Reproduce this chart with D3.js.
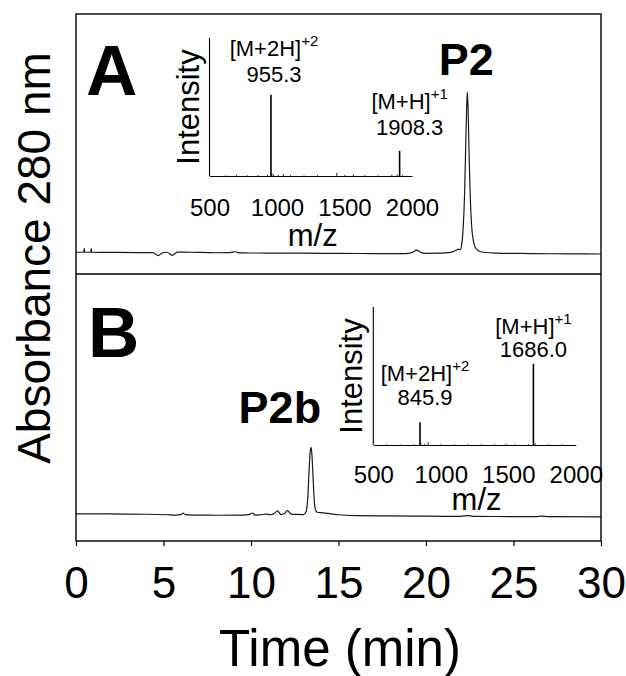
<!DOCTYPE html>
<html>
<head>
<meta charset="utf-8">
<script src="https://cdn.jsdelivr.net/npm/d3@7"></script>
<style>
  body { margin: 0; background: #fff; }
  svg { display: block; }
  text { font-family: "Liberation Sans", Arial, Helvetica, sans-serif; fill: #000; }
</style>
</head>
<body>
<svg id="chart" width="626" height="676"></svg>
<script>
// ---- HPLC traces (retention time in min, absorbance at 280 nm, relative units) ----
const timeA = [0, 0.44, 0.47, 0.5, 0.84, 0.87, 0.9, 2, 3.5, 4.4, 4.7, 4.95, 5.2, 5.5, 5.8, 6.5, 8, 8.8, 9.1, 9.4,
  11, 13, 15, 17, 18.8, 19.2, 19.45, 19.7, 20, 20.8, 21.4, 21.7, 21.85, 21.95, 22.05, 22.12, 22.2, 22.26, 22.31,
  22.36, 22.41, 22.46, 22.52, 22.6, 22.7, 22.82, 23.0, 23.3, 24, 26, 28, 30];
const absA = [0.5, 0.5, 2.8, 0.5, 0.5, 2.8, 0.5, 0.4, 0.3, 0.3, -1.6, 0.2, 0.5, -1.4, 0.6, 0.5, 0.2, 0.3, 0.8, 0.1,
  0, -0.1, -0.2, -0.3, -0.3, 0.3, 1.8, 0.4, -0.2, -0.1, 0.4, 1.6, 2.4, 2.0, 6, 15, 35, 62, 85,
  100, 88, 62, 38, 18, 8, 3.5, 1.5, 0.5, 0, -0.3, -0.5, -0.6];

const timeB = [0, 2, 4, 5.2, 5.7, 6.0, 6.12, 6.25, 6.6, 8, 9.5, 9.9, 10.08, 10.25, 10.5, 10.9, 11.1, 11.35, 11.52,
  11.7, 11.9, 12.08, 12.3, 12.6, 13.0, 13.15, 13.25, 13.33, 13.39, 13.44, 13.49, 13.56, 13.64, 13.74, 13.85,
  14.1, 14.5, 15, 16, 18, 20, 22, 22.4, 22.7, 24, 26.3, 26.6, 27, 30];
const absB = [0.8, 0.7, 0.5, 0.2, 0, 0.3, 1.2, 0.3, 0, -0.1, 0, 0.3, 1.3, 0, 0.1, 0.6, 0.2, 1.1, 2.6,
  0.4, 0.8, 2.8, 0.6, 0.4, 0.3, 2, 12, 30, 40, 42, 36, 20, 6, 2, 1.6,
  1.4, 0.9, 0.2, -0.3, -0.5, -0.7, -0.8, -0.3, -0.8, -0.9, -1.0, -0.6, -1.0, -1.1];

const timeTicks = [0, 5, 10, 15, 20, 25, 30];

// ---- ESI mass spectra (m/z, relative intensity) ----
const ionA = ["[M+2H]", "[M+H]"];
const chargeA = ["+2", "+1"];
const peakMzA = [955.3, 1908.3];
const peakIntA = [100, 31];
const noiseMzA = [620, 700, 780, 860, 930, 962, 975, 1010, 1047, 1100, 1200, 1300, 1443, 1500, 1566, 1650, 1750, 1850, 1890, 1930];
const noiseIntA = [0.8, 1, 0.8, 1.2, 1.5, 3, 2, 1.5, 2.5, 1, 0.8, 1, 4, 1, 2, 1, 0.8, 1.5, 2, 1];

const ionB = ["[M+2H]", "[M+H]"];
const chargeB = ["+2", "+1"];
const peakMzB = [845.9, 1686.0];
const peakIntB = [28, 100];
const noiseMzB = [600, 700, 800, 852, 880, 907, 1000, 1100, 1200, 1300, 1400, 1483, 1550, 1650, 1700, 1800, 1900];
const noiseIntB = [0.8, 0.8, 1, 3, 1.5, 3.5, 1, 0.8, 0.8, 1, 0.8, 1.5, 0.8, 1, 2, 0.8, 0.8];

const mzTicks = [500, 1000, 1500, 2000];

const svg = d3.select("#chart");
const FONT = '"Liberation Sans", Arial, Helvetica, sans-serif';

// ---- main frame and scales ----
const frame = { left: 76, right: 601, top: 14, mid: 274, bottom: 541 };
const x = d3.scaleLinear().domain([0, 30]).range([frame.left, frame.right]);
const yA = d3.scaleLinear().domain([-13, 148.4]).range([frame.mid, frame.top]);
const yB = d3.scaleLinear().domain([-16.1, 149.7]).range([frame.bottom, frame.mid]);

const trace = (yScale) => d3.line()
  .x(d => x(d[0]))
  .y(d => yScale(d[1]))
  .curve(d3.curveMonotoneX);

svg.append("path")
  .datum(d3.zip(timeA, absA))
  .attr("d", trace(yA))
  .attr("fill", "none").attr("stroke", "#1a1a1a").attr("stroke-width", 1.2);

svg.append("path")
  .datum(d3.zip(timeB, absB))
  .attr("d", trace(yB))
  .attr("fill", "none").attr("stroke", "#1a1a1a").attr("stroke-width", 1.2);

// frame and panel divider
svg.append("rect")
  .attr("x", frame.left).attr("y", frame.top)
  .attr("width", frame.right - frame.left).attr("height", frame.bottom - frame.top)
  .attr("fill", "none").attr("stroke", "#000").attr("stroke-width", 1.4);
svg.append("line")
  .attr("x1", frame.left).attr("x2", frame.right)
  .attr("y1", frame.mid).attr("y2", frame.mid)
  .attr("stroke", "#000").attr("stroke-width", 1.4);

// bottom time axis
const xAxis = svg.append("g")
  .attr("transform", `translate(0,${frame.bottom})`)
  .call(d3.axisBottom(x).tickValues(timeTicks).tickSize(5).tickPadding(21).tickFormat(d3.format("d")));
xAxis.select(".domain").remove();
xAxis.selectAll(".tick line").attr("stroke", "#000").attr("stroke-width", 1.2);
xAxis.selectAll(".tick text").attr("font-family", FONT).attr("font-size", 44).attr("fill", "#000");

svg.append("text")
  .attr("x", 340).attr("y", 666)
  .attr("text-anchor", "middle").attr("font-size", 51)
  .text("Time (min)");

svg.append("text")
  .attr("transform", "translate(50,258) rotate(-90)")
  .attr("text-anchor", "middle").attr("font-size", 46)
  .text("Absorbance 280 nm");

// panel letters and peak names
svg.append("text").attr("x", 86).attr("y", 95)
  .attr("font-size", 71).attr("font-weight", "bold").text("A");
svg.append("text").attr("x", 88).attr("y", 357)
  .attr("font-size", 71).attr("font-weight", "bold").text("B");
svg.append("text").attr("x", x(22.3)).attr("y", 75)
  .attr("text-anchor", "middle").attr("font-size", 45).attr("font-weight", "bold").text("P2");
svg.append("text").attr("x", x(11.65)).attr("y", 423)
  .attr("text-anchor", "middle").attr("font-size", 45).attr("font-weight", "bold").text("P2b");

// ---- inset mass spectrum ----
function inset(box, peakMz, peakInt, noiseMz, noiseInt, ions, charges, labelPos) {
  const g = svg.append("g");
  const xm = d3.scaleLinear().domain([500, 2000]).range([box.left, box.left + 202.5]);
  const ym = d3.scaleLinear().domain([0, 170]).range([box.base, box.base - 138]);

  // minor signals along the baseline
  g.selectAll("line.noise")
    .data(d3.zip(noiseMz, noiseInt))
    .join("line").attr("class", "noise")
    .attr("x1", d => xm(d[0])).attr("x2", d => xm(d[0]))
    .attr("y1", ym(0)).attr("y2", d => ym(d[1]))
    .attr("stroke", "#222").attr("stroke-width", 1);

  // main ion peaks
  g.selectAll("line.peak")
    .data(d3.zip(peakMz, peakInt))
    .join("line").attr("class", "peak")
    .attr("x1", d => xm(d[0])).attr("x2", d => xm(d[0]))
    .attr("y1", ym(0)).attr("y2", d => ym(d[1]))
    .attr("stroke", "#000").attr("stroke-width", 1.6);

  // axes: left and bottom lines only
  g.append("line")
    .attr("x1", xm(500)).attr("x2", xm(500))
    .attr("y1", ym(0)).attr("y2", ym(170))
    .attr("stroke", "#000").attr("stroke-width", 1.1);
  const ax = g.append("g")
    .attr("transform", `translate(0,${ym(0)})`)
    .call(d3.axisBottom(xm).tickValues(mzTicks).tickSize(0).tickPadding(box.tickPad).tickFormat(d3.format("d")));
  ax.select(".domain").attr("stroke", "#000").attr("stroke-width", 1.1);
  ax.selectAll(".tick text").attr("font-family", FONT).attr("font-size", 24).attr("fill", "#000");

  g.append("text")
    .attr("x", (xm(500) + xm(2000)) / 2 + 2).attr("y", ym(0) + box.mzDy)
    .attr("text-anchor", "middle").attr("font-size", 31).text("m/z");
  g.append("text")
    .attr("transform", `translate(${xm(500) - 11},${(ym(0) + ym(170)) / 2}) rotate(-90)`)
    .attr("text-anchor", "middle").attr("font-size", 31).text("Intensity");

  // ion annotations
  peakMz.forEach((mz, i) => {
    const p = labelPos[i];
    const cx = xm(mz) + p.dx;
    const t1 = g.append("text").attr("x", cx).attr("y", p.y).attr("text-anchor", "middle").attr("font-size", 22);
    t1.append("tspan").text(ions[i]);
    t1.append("tspan").attr("font-size", 15).attr("dy", -10).text(charges[i]);
    g.append("text").attr("x", cx).attr("y", p.y + p.gap)
      .attr("text-anchor", "middle").attr("font-size", 22).text(d3.format(".1f")(mz));
  });
}

inset({ left: 209.5, base: 176, tickPad: 23, mzDy: 70 }, peakMzA, peakIntA, noiseMzA, noiseIntA, ionA, chargeA,
  [{ dx: 3, y: 56, gap: 26 }, { dx: 10, y: 109, gap: 26 }]);
inset({ left: 373.3, base: 445, tickPad: 21, mzDy: 65 }, peakMzB, peakIntB, noiseMzB, noiseIntB, ionB, chargeB,
  [{ dx: 5, y: 381, gap: 24 }, { dx: 0, y: 334, gap: 23 }]);
</script>
</body>
</html>
